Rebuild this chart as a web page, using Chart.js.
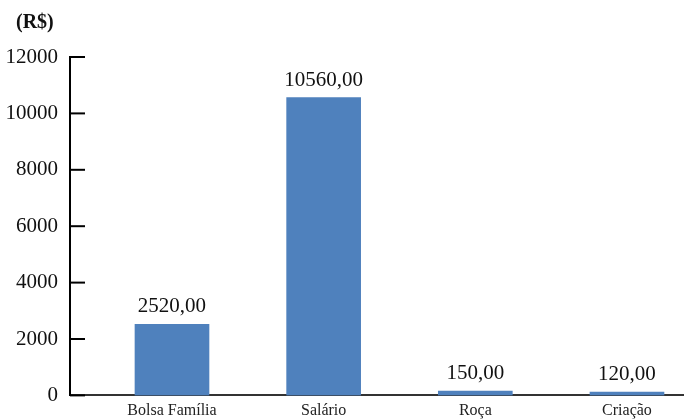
<!DOCTYPE html>
<html>
<head>
<meta charset="utf-8">
<script src="https://cdn.jsdelivr.net/npm/chart.js@4"></script>
<style>
  html, body { margin: 0; padding: 0; background: #fff; }
  #wrap { width: 684px; height: 420px; }
</style>
</head>
<body>
<div id="wrap"><canvas id="chart"></canvas></div>
<script>
// Income sources (R$)
const categories = ["Bolsa Família", "Salário", "Roça", "Criação"];
const values = [2520, 10560, 150, 120];
const valueLabels = ["2520,00", "10560,00", "150,00", "120,00"];
const yTicks = [0, 2000, 4000, 6000, 8000, 10000, 12000];

const SERIF = "'Liberation Serif', 'Times New Roman', serif";

// y tick marks point inward, and labels sit above the bars
const extrasPlugin = {
  id: "extras",
  afterDatasetsDraw(chart) {
    const ctx = chart.ctx;
    const yScale = chart.scales.y;
    const left = chart.chartArea.left;

    ctx.save();
    ctx.strokeStyle = "#000";
    ctx.lineWidth = 2;
    yTicks.forEach((t) => {
      const y = yScale.getPixelForValue(t);
      ctx.beginPath();
      ctx.moveTo(left, y);
      ctx.lineTo(left + 15, y);
      ctx.stroke();
    });

    ctx.fillStyle = "#111";
    ctx.font = "21px " + SERIF;
    ctx.textAlign = "center";
    ctx.textBaseline = "alphabetic";
    chart.getDatasetMeta(0).data.forEach((bar, i) => {
      ctx.fillText(valueLabels[i], bar.x, bar.y - 12);
    });

    ctx.font = "bold 20px " + SERIF;
    ctx.textAlign = "left";
    ctx.fillText("(R$)", 16, 28);
    ctx.restore();
  },
};

const ctx = document.getElementById("chart").getContext("2d");
new Chart(ctx, {
  type: "bar",
  data: {
    datasets: [
      {
        data: values.map((v, i) => ({ x: i, y: v })),
        backgroundColor: "#4f81bd",
        barThickness: 74,
      },
    ],
  },
  options: {
    responsive: true,
    maintainAspectRatio: false,
    animation: false,
    layout: { padding: { top: 57, right: 0, bottom: 0, left: 0 } },
    plugins: {
      legend: { display: false },
      tooltip: { enabled: false },
    },
    scales: {
      x: {
        type: "linear",
        offset: false,
        min: -0.6725,
        max: 3.376,
        grid: { display: false, drawTicks: false },
        border: { display: true, color: "#333", width: 2 },
        afterBuildTicks: (scale) => {
          scale.ticks = categories.map((c, i) => ({ value: i }));
        },
        afterFit: (scale) => {
          scale.height = 23;
        },
        ticks: {
          autoSkip: false,
          maxRotation: 0,
          padding: 6,
          color: "#222",
          font: { family: SERIF, size: 16 },
          callback: (v) => categories[v] || "",
        },
      },
      y: {
        min: 0,
        max: 12000,
        grid: { display: false, drawTicks: false },
        border: { display: true, color: "#000", width: 2 },
        afterBuildTicks: (scale) => {
          scale.ticks = yTicks.map((v) => ({ value: v }));
        },
        afterFit: (scale) => {
          scale.width = 70;
        },
        ticks: {
          padding: 12,
          color: "#111",
          font: { family: SERIF, size: 21 },
          callback: (v) => String(v),
        },
      },
    },
  },
  plugins: [extrasPlugin],
});
</script>
</body>
</html>
